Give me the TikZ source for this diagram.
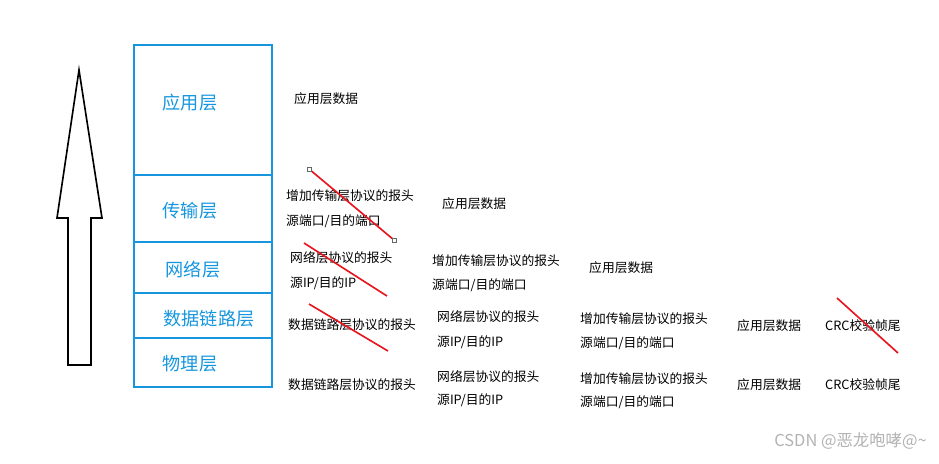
\documentclass[tikz,border=0pt]{standalone}
\usepackage{fontspec}
\setmainfont{Noto Sans CJK SC}
\usetikzlibrary{calc}
\definecolor{layerblue}{RGB}{22,150,222}
\definecolor{cutred}{RGB}{232,20,30}
\tikzset{
  layer/.style={draw=layerblue,line width=1.6pt},
  layername/.style={text=layerblue,font=\fontsize{15.5}{15.5}\selectfont,inner sep=0pt},
  field/.style={anchor=west,font=\fontsize{10.9}{10.9}\selectfont,inner sep=0pt},
  cut/.style={draw=cutred,line width=1.4pt},
  handle/.style={draw=gray!80!black,fill=white,line width=0.5pt}
}
\begin{document}
\begin{tikzpicture}[x=0.03cm,y=-0.03cm]
  \useasboundingbox (0,0) rectangle (939,463);
  % hollow upward arrow
  \draw[line width=1.4pt] (68,365)--(68,218)--(57,218)--(79,70)--(102,218)--(91,218)--(91,365)--cycle;
  % protocol stack
  \draw[layer] (134,45) rectangle (272,387);
  \foreach \y in {175,242,293,338}{
    \draw[layer] (134,\y)--(272,\y);
  }
  \node[layername] (app) at (190,103) {应用层};
  \node[layername] (trans) at (190,211) {传输层};
  \node[layername] (net) at (193,270) {网络层};
  \node[layername] (link) at (209,319) {数据链路层};
  \node[layername] (phy) at (190,364) {物理层};
  % application layer row
  \node[field] (a1) at (294,99) {应用层数据};
  % transport layer row
  \node[field] (t1) at (286,196) {增加传输层协议的报头};
  \node[field] (t2) at (286,221) {源端口/目的端口};
  \node[field] (t3) at (442,204) {应用层数据};
  % network layer row
  \node[field] (n1) at (290,258) {网络层协议的报头};
  \node[field] (n2) at (290,283) {源IP/目的IP};
  \node[field] (n3) at (432,261) {增加传输层协议的报头};
  \node[field] (n4) at (432,285) {源端口/目的端口};
  \node[field] (n5) at (589,268) {应用层数据};
  % data link layer row
  \node[field] (l1) at (288,325) {数据链路层协议的报头};
  \node[field] (l2) at (437,317) {网络层协议的报头};
  \node[field] (l3) at (437,342) {源IP/目的IP};
  \node[field] (l4) at (580,319) {增加传输层协议的报头};
  \node[field] (l5) at (580,343) {源端口/目的端口};
  \node[field] (l6) at (737,326) {应用层数据};
  \node[field] (l7) at (825,326) {CRC校验帧尾};
  % physical layer row
  \node[field] (p1) at (288,385) {数据链路层协议的报头};
  \node[field] (p2) at (437,377) {网络层协议的报头};
  \node[field] (p3) at (437,400) {源IP/目的IP};
  \node[field] (p4) at (580,379) {增加传输层协议的报头};
  \node[field] (p5) at (580,402) {源端口/目的端口};
  \node[field] (p6) at (737,385) {应用层数据};
  \node[field] (p7) at (825,385) {CRC校验帧尾};
  % headers removed on the way up
  \coordinate (c1a) at (309,169); \coordinate (c1b) at (394,240);
  \draw[cut] (c1a)--(c1b);
  \foreach \c in {c1a,c1b}{
    \draw[handle] ($(\c)+(-2.2,-2.2)$) rectangle ($(\c)+(2.2,2.2)$);
  }
  \draw[cut] (304,243)--(387,296);
  \draw[cut] (309,304)--(388,351);
  \draw[cut] (837,298)--(898,353);
  \node[anchor=east,text=gray!60,font=\fontsize{14}{14}\selectfont,inner sep=0pt] (mark) at (927,441) {CSDN @恶龙咆哮@\textasciitilde};
\end{tikzpicture}
\end{document}
